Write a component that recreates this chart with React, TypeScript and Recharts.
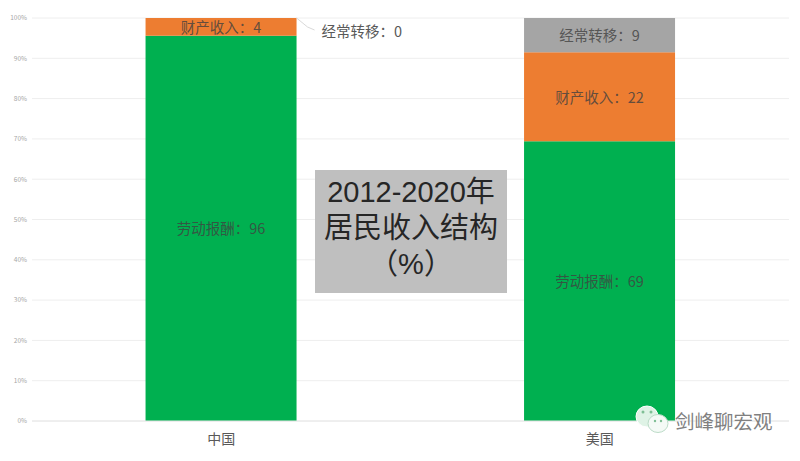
import { BarChart, Bar, XAxis, YAxis, CartesianGrid, LabelList } from 'recharts'

const categories = ['中国', '美国']
const laborIncome = [95.6, 69.4]
const propertyIncome = [4.4, 22.1]
const transferIncome = [0, 8.5]
const yTicks = [0, 10, 20, 30, 40, 50, 60, 70, 80, 90, 100]
const titleLines = ['2012-2020年', '居民收入结构', '（%）']
const watermark = '剑峰聊宏观'

const data = categories.map((name, i) => ({
  name,
  labor: laborIncome[i],
  property: propertyIncome[i],
  transfer: transferIncome[i],
}))

const FONT = '"Noto Sans CJK SC", "Noto Sans", sans-serif'

// 在柱内居中显示"名称：数值"
function inBarLabel(title: string) {
  return (props: any) => {
    const { x, y, width, height, value } = props
    if (!value) return null
    return (
      <text
        x={x + width / 2}
        y={y + height / 2 - 0.5}
        textAnchor="middle"
        dominantBaseline="central"
        fontSize={14.5}
        fontFamily={FONT}
        fill="#404040"
        fillOpacity={0.8}
      >
        {title}：{Math.round(value)}
      </text>
    )
  }
}

// 经常转移为0的柱子没有高度，引线挂在财产收入那段的右上角
function transferCallout(props: any) {
  const { x, y, width, index } = props
  if (transferIncome[index] !== 0) return null
  const right = x + width
  return (
    <g>
      <polyline
        points={`${right},${y} ${right + 11},${y + 9} ${right + 18},${y + 12}`}
        fill="none"
        stroke="#d9d9d9"
      />
      <text
        x={right + 25}
        y={y + 12}
        dominantBaseline="central"
        fontSize={14.5}
        fontFamily={FONT}
        fill="#595959"
      >
        经常转移：{transferIncome[index]}
      </text>
    </g>
  )
}

export default function App() {
  return (
    <div style={{ position: 'absolute', left: 0, top: 0, width: 800, height: 461, background: '#fff', overflow: 'hidden' }}>
      <BarChart
        width={800}
        height={461}
        data={data}
        barCategoryGap="30%"
        margin={{ top: 18, right: 11, bottom: 0, left: 0 }}
      >
        <CartesianGrid vertical={false} stroke="#eeeeee" />
        <XAxis
          dataKey="name"
          height={40}
          axisLine={{ stroke: '#e6e6e6' }}
          tickLine={false}
          tick={{ fontSize: 14, fill: '#595959', fontFamily: FONT }}
          tickMargin={7}
        />
        <YAxis
          width={32}
          domain={[0, 100]}
          ticks={yTicks}
          interval={0}
          axisLine={false}
          tickLine={false}
          tickSize={5}
          tickMargin={0}
          tickFormatter={(v: number) => `${v}%`}
          tick={{ fontSize: 6.5, fill: '#a6a6a6', fontFamily: FONT }}
        />
        <Bar dataKey="labor" stackId="a" fill="#00b050" isAnimationActive={false}>
          <LabelList dataKey="labor" content={inBarLabel('劳动报酬')} />
        </Bar>
        <Bar dataKey="property" stackId="a" fill="#ed7d31" isAnimationActive={false}>
          <LabelList dataKey="property" content={inBarLabel('财产收入')} />
          <LabelList dataKey="property" content={transferCallout} />
        </Bar>
        <Bar dataKey="transfer" stackId="a" fill="#a5a5a5" isAnimationActive={false}>
          <LabelList dataKey="transfer" content={inBarLabel('经常转移')} />
        </Bar>
      </BarChart>

      <div
        style={{
          position: 'absolute',
          left: 315,
          top: 170,
          width: 192,
          height: 123,
          background: '#bfbfbf',
          color: '#262626',
          fontFamily: '"Liberation Sans", "Noto Sans CJK SC", sans-serif',
          fontSize: 29,
          lineHeight: '36px',
          textAlign: 'center',
          paddingTop: 4,
          boxSizing: 'border-box',
          whiteSpace: 'nowrap',
        }}
      >
        {titleLines.map((line) => (
          <div key={line}>{line}</div>
        ))}
      </div>

      {/* 水印 */}
      <svg style={{ position: 'absolute', left: 630, top: 400 }} width={42} height={38}>
        <ellipse cx={17} cy={16.5} rx={11} ry={10.5} fill="#dff3e6" stroke="#ffffff" />
        <ellipse cx={28} cy={23.5} rx={10} ry={9} fill="#f4faf6" stroke="#bcdcc8" />
        <circle cx={13} cy={12} r={1.5} fill="#7fbf95" />
        <circle cx={21} cy={12} r={1.5} fill="#7fbf95" />
        <circle cx={25} cy={21} r={1.2} fill="#7fbf95" />
        <circle cx={31} cy={21} r={1.2} fill="#7fbf95" />
      </svg>
      <div
        style={{
          position: 'absolute',
          left: 675,
          top: 407,
          fontFamily: FONT,
          fontSize: 19.5,
          lineHeight: '28px',
          color: '#808080',
          textShadow: '0 0 2px #ffffff',
          whiteSpace: 'nowrap',
        }}
      >
        {watermark}
      </div>
    </div>
  )
}
